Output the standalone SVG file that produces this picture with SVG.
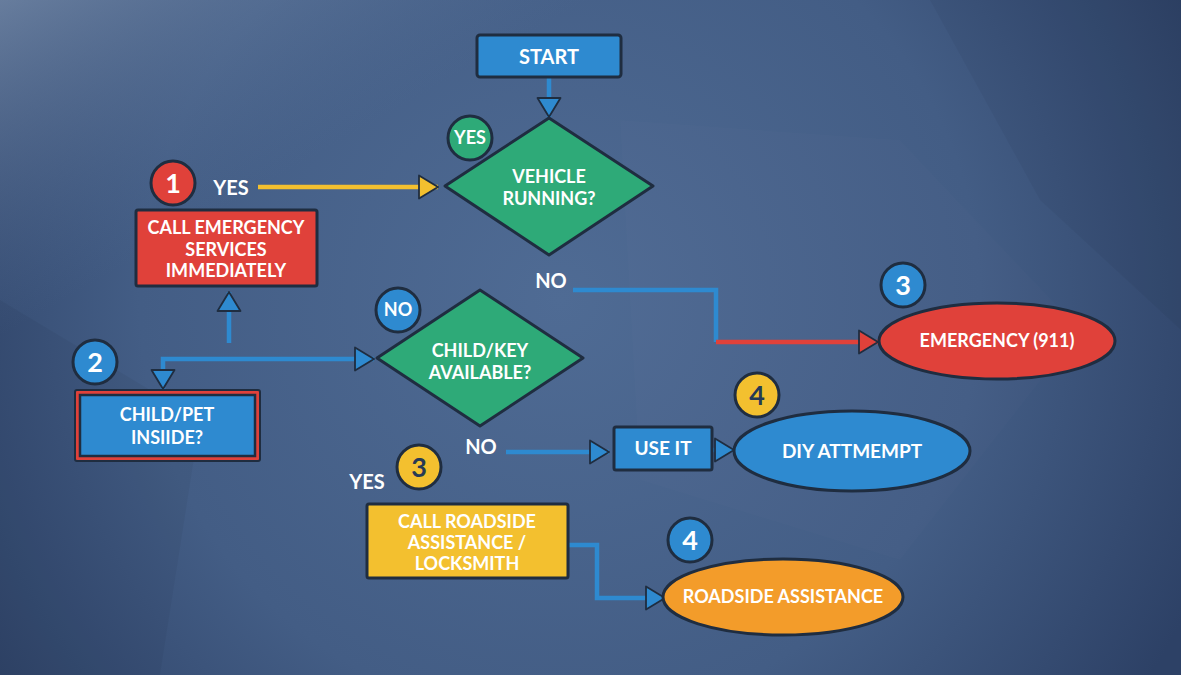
<svg xmlns="http://www.w3.org/2000/svg" width="1181" height="675" viewBox="0 0 1181 675">
<defs>
<radialGradient id="bg" cx="560" cy="300" r="700" gradientUnits="userSpaceOnUse">
<stop offset="0" stop-color="#4f6b94"/>
<stop offset="0.6" stop-color="#435d85"/>
<stop offset="1" stop-color="#2d4166"/>
</radialGradient>
<linearGradient id="tl" x1="0" y1="0" x2="1" y2="1">
<stop offset="0" stop-color="#8aa0bd" stop-opacity="0.6"/>
<stop offset="0.25" stop-color="#5a7399" stop-opacity="0"/>
</linearGradient>
<marker id="aBlue" viewBox="0 0 26 26" refX="23" refY="13" markerWidth="26" markerHeight="26" markerUnits="userSpaceOnUse" orient="auto">
<path d="M4,1.5 L23,13 L4,24.5 Z" fill="#2e8ad0" stroke="#1f2d40" stroke-width="1.8" stroke-linejoin="round"/>
</marker>
<marker id="aYellow" viewBox="0 0 26 26" refX="23" refY="13" markerWidth="26" markerHeight="26" markerUnits="userSpaceOnUse" orient="auto">
<path d="M4,1.5 L23,13 L4,24.5 Z" fill="#f3c02f" stroke="#1f2d40" stroke-width="1.8" stroke-linejoin="round"/>
</marker>
<marker id="aRed" viewBox="0 0 26 26" refX="23" refY="13" markerWidth="26" markerHeight="26" markerUnits="userSpaceOnUse" orient="auto">
<path d="M4,1.5 L23,13 L4,24.5 Z" fill="#e0413a" stroke="#1f2d40" stroke-width="1.8" stroke-linejoin="round"/>
</marker>
<style>
.t{font-family:Lato,"Open Sans","Liberation Sans",sans-serif;font-weight:bold;fill:#ffffff;text-anchor:middle;}
.s{font-size:18px;}
.lbl{font-size:20px;}
.num{font-size:27px;}
.dk{fill:#263a55;}
.sh{stroke:#1f2d40;stroke-width:3;stroke-linejoin:round;}
.blue{fill:#2e8ad0;}
.green{fill:#2eaa78;}
.red{fill:#e0413a;}
.yellow{fill:#f3c02f;}
.orange{fill:#f39c2a;}
.ln{fill:none;stroke-width:4.5;stroke-linejoin:miter;}
.lb{stroke:#2e8ad0;}
.ly{stroke:#f3c02f;}
.lr{stroke:#e0413a;}
</style>
</defs>
<rect width="1181" height="675" fill="url(#bg)"/>
<rect width="1181" height="675" fill="url(#tl)"/>
<polygon points="620,120 900,140 1080,330 900,560 640,480" fill="#ffffff" opacity="0.012"/>
<polygon points="0,300 200,420 160,675 0,675" fill="#000000" opacity="0.04"/>
<polygon points="930,0 1181,0 1181,330 1040,200" fill="#000000" opacity="0.04"/>

<g id="connectors">
<line class="ln lb" x1="549" y1="78" x2="549" y2="117" marker-end="url(#aBlue)"/>
<line class="ln ly" x1="258" y1="187" x2="438" y2="187" marker-end="url(#aYellow)"/>
<line class="ln lb" x1="229" y1="343" x2="229" y2="292" marker-end="url(#aBlue)"/>
<polyline class="ln lb" points="229,359 374,359" marker-end="url(#aBlue)"/>
<polyline class="ln lb" points="229,359 163,359 163,389" marker-end="url(#aBlue)"/>
<polyline class="ln lb" points="573,290 716,290 716,342"/>
<line class="ln lr" x1="716" y1="342" x2="878" y2="342" marker-end="url(#aRed)"/>
<line class="ln lb" x1="506" y1="452" x2="609" y2="452" marker-end="url(#aBlue)"/>
<line class="ln lb" x1="712" y1="450" x2="734" y2="450" marker-end="url(#aBlue)"/>
<polyline class="ln lb" points="568,545 597,545 597,598 665,598" marker-end="url(#aBlue)"/>
</g>

<g id="start">
<rect class="sh blue" x="477" y="35" width="144" height="42" rx="3"/>
<text class="t" x="549" y="64" font-size="20">START</text>
</g>

<g id="vehicle-running">
<polygon class="sh green" points="549,118 653,186 549,255 445,186"/>
<text class="t s" x="549" y="183">VEHICLE</text>
<text class="t s" x="549" y="205">RUNNING?</text>
</g>
<g id="yes-badge">
<circle class="sh green" cx="470" cy="138" r="22"/>
<text class="t s" x="470" y="144">YES</text>
</g>

<g id="badge-1">
<circle class="sh red" cx="173" cy="183" r="22"/>
<text class="t num" x="173" y="193">1</text>
</g>
<text class="t lbl" x="231" y="195">YES</text>

<g id="call-emergency">
<rect class="sh red" x="136" y="210" width="181" height="76" rx="2"/>
<text class="t s" x="226" y="234">CALL EMERGENCY</text>
<text class="t s" x="226" y="256">SERVICES</text>
<text class="t s" x="226" y="277">IMMEDIATELY</text>
</g>

<g id="badge-2">
<circle class="sh blue" cx="95" cy="362" r="22"/>
<text class="t num" x="95" y="372">2</text>
</g>

<g id="child-pet">
<rect x="75" y="390" width="185" height="71" rx="2" fill="#e0413a" stroke="#1f2d40" stroke-width="2"/>
<rect class="blue" x="80" y="395" width="175" height="61" stroke="#1f2d40" stroke-width="2.5"/>
<text class="t s" x="167" y="421">CHILD/PET</text>
<text class="t s" x="167" y="444">INSIIDE?</text>
</g>

<g id="no-badge">
<circle class="sh blue" cx="398" cy="310" r="22"/>
<text class="t s" x="398" y="316">NO</text>
</g>

<g id="child-key">
<polygon class="sh green" points="480,290 583,358 480,426 377,358"/>
<text class="t s" x="480" y="357">CHILD/KEY</text>
<text class="t s" x="480" y="379">AVAILABLE?</text>
</g>

<text class="t lbl" x="551" y="288">NO</text>

<g id="badge-3-blue">
<circle class="sh blue" cx="903" cy="285" r="22"/>
<text class="t num" x="903" y="295">3</text>
</g>
<g id="emergency-911">
<ellipse class="sh red" cx="997" cy="341" rx="118" ry="38"/>
<text class="t s" x="997" y="347">EMERGENCY (911)</text>
</g>

<text class="t lbl" x="481" y="454">NO</text>

<g id="use-it">
<rect class="sh blue" x="614" y="427" width="98" height="43" rx="2"/>
<text class="t" x="663" y="455" font-size="19">USE IT</text>
</g>

<g id="badge-4-yellow">
<circle class="sh yellow" cx="757" cy="395" r="22"/>
<text class="t num dk" x="757" y="405">4</text>
</g>
<g id="diy-attempt">
<ellipse class="sh blue" cx="852" cy="451" rx="118" ry="40"/>
<text class="t" x="852" y="458" font-size="19">DIY ATTMEMPT</text>
</g>

<text class="t lbl" x="367" y="489">YES</text>
<g id="badge-3-yellow">
<circle class="sh yellow" cx="419" cy="467" r="22"/>
<text class="t num dk" x="419" y="477">3</text>
</g>

<g id="call-roadside">
<rect class="sh yellow" x="367" y="504" width="201" height="74" rx="2"/>
<text class="t s" x="467" y="528">CALL ROADSIDE</text>
<text class="t s" x="467" y="549">ASSISTANCE /</text>
<text class="t s" x="467" y="570">LOCKSMITH</text>
</g>

<g id="badge-4-blue">
<circle class="sh blue" cx="690" cy="540" r="22"/>
<text class="t num" x="690" y="550">4</text>
</g>
<g id="roadside-assistance">
<ellipse class="sh orange" cx="783" cy="597" rx="120" ry="38"/>
<text class="t s" x="783" y="603">ROADSIDE ASSISTANCE</text>
</g>
</svg>
